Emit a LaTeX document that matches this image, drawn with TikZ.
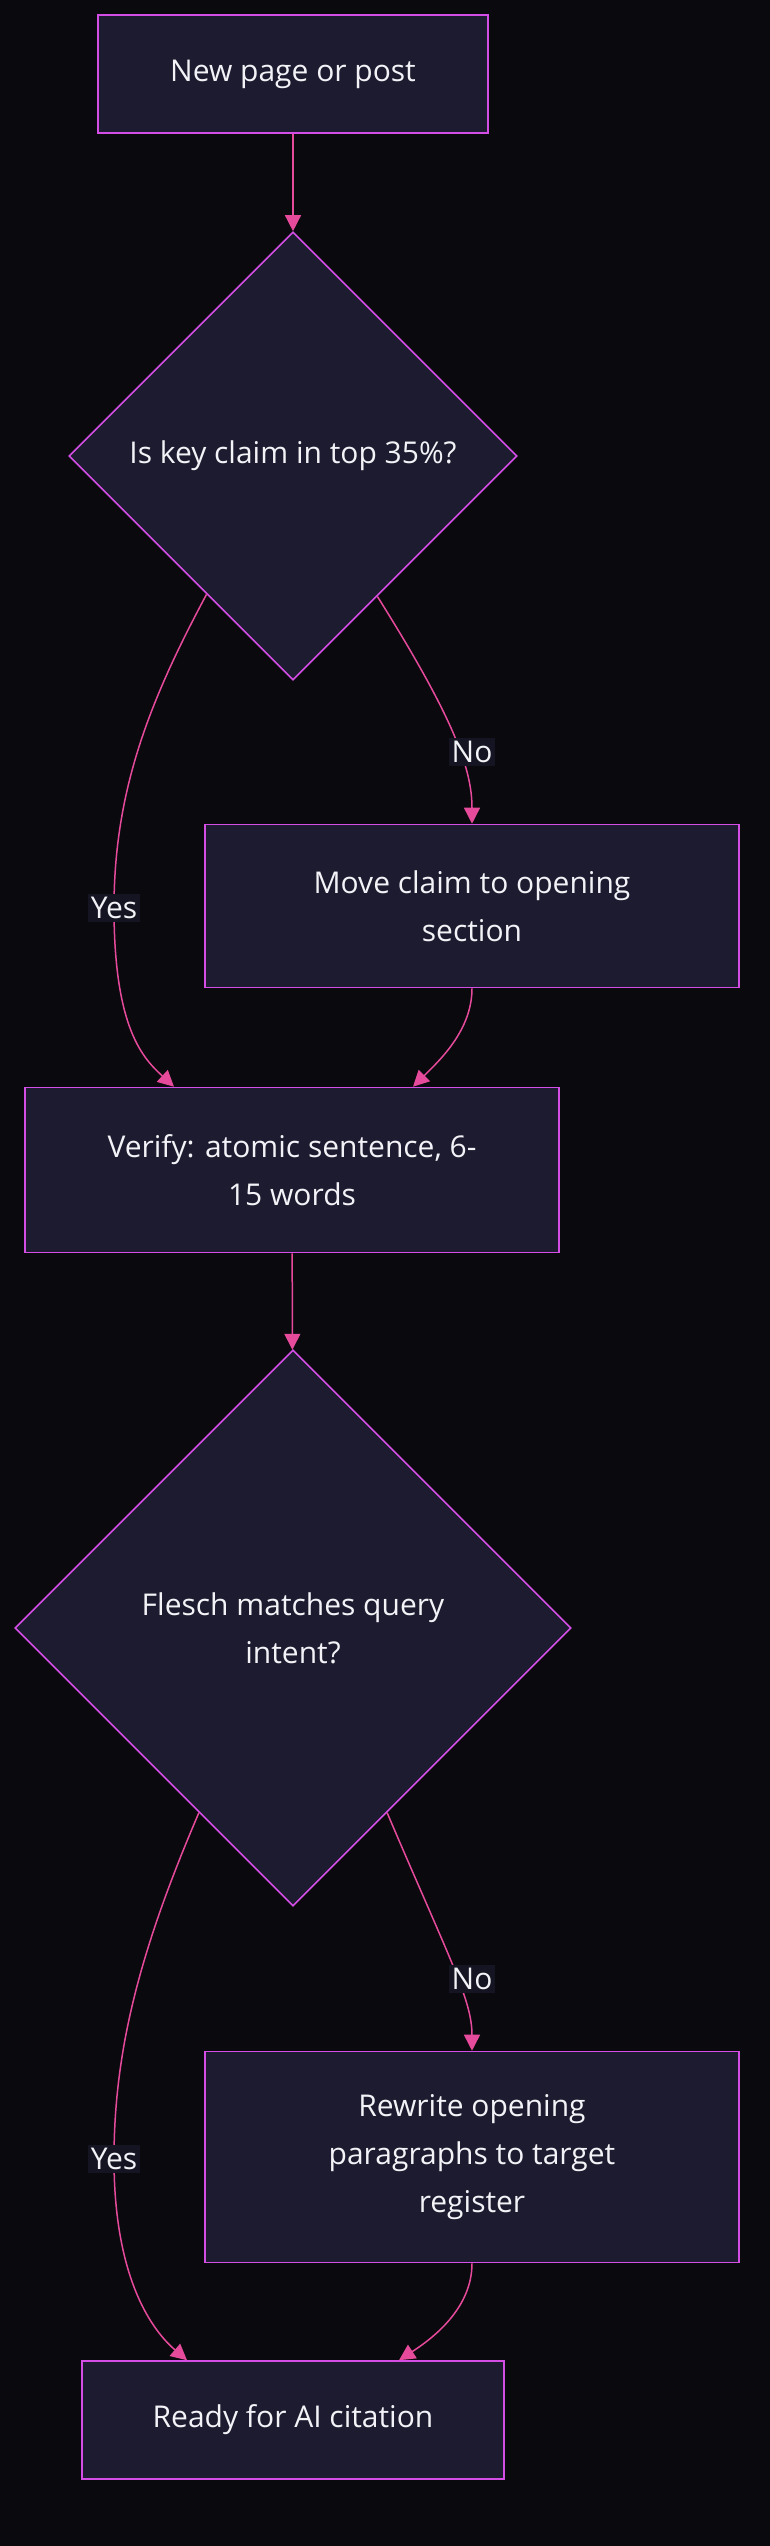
\documentclass[tikz,border=0pt]{standalone}
\usepackage{fontspec}
\setmainfont{Open Sans}
\usetikzlibrary{shapes.geometric,arrows.meta}
\definecolor{bgdark}{HTML}{0A090E}
\definecolor{boxfill}{HTML}{1C1B2F}
\definecolor{boxline}{HTML}{D44EE6}
\definecolor{edgepink}{HTML}{E64A9A}
\definecolor{lblfill}{HTML}{151423}
\definecolor{txt}{HTML}{F2F2F7}
\begin{document}
\begin{tikzpicture}[x=1pt,y=1pt,
  every node/.style={font=\fontsize{30}{48}\selectfont,text=txt},
  proc/.style={draw=boxline,fill=boxfill,line width=1.6pt,align=center,inner sep=0pt},
  decide/.style={diamond,aspect=1,draw=boxline,fill=boxfill,line width=1.6pt,align=center,inner sep=0pt},
  flow/.style={draw=edgepink,line width=1.5pt,-{Triangle[length=16pt,width=16pt]}},
  lbl/.style={fill=lblfill,inner sep=3pt}]
  \fill[bgdark] (0,0) rectangle (770,-2546);
  \node[proc,minimum width=390pt,minimum height=118pt] (start) at (293,-74) {New page or post};
  \node[decide,minimum width=448pt,minimum height=448pt] (d1) at (293,-456) {Is key claim in top 35\%?};
  \node[proc,minimum width=534pt,minimum height=163pt] (move) at (472,-906) {Move claim to opening\\section};
  \node[proc,minimum width=534pt,minimum height=165pt] (verify) at (292,-1170) {Verify: atomic sentence, 6-\\15 words};
  \node[decide,minimum width=556pt,minimum height=556pt] (d2) at (293,-1628) {Flesch matches query\\intent?};
  \node[proc,minimum width=534pt,minimum height=211pt] (rewrite) at (472,-2157) {Rewrite opening\\paragraphs to target\\register};
  \node[proc,minimum width=422pt,minimum height=118pt] (ready) at (293,-2420) {Ready for AI citation};
  \coordinate (no1) at (472,-752);
  \coordinate (yes1) at (114,-908);
  \coordinate (no2) at (472,-1979);
  \coordinate (yes2) at (114,-2159);
  \draw[flow] (start) -- (d1);
  \draw[flow] (d1.238) .. controls (150,-700) and (114,-790) .. (yes1)
    .. controls (114,-1030) and (144,-1059) .. ([xshift=-118pt]verify.north);
  \draw[flow] (d1.-59) .. controls (455,-720) and (472,-770) .. (move.north);
  \draw[flow] (move.south) .. controls (472,-1030) and (440,-1060) .. ([xshift=121pt]verify.north);
  \draw[flow] (verify) -- (d2);
  \draw[flow] (d2.243) .. controls (140,-1950) and (114,-2050) .. (yes2)
    .. controls (114,-2290) and (160,-2337) .. ([xshift=-106pt]ready.north);
  \draw[flow] (d2.-63) .. controls (450,-1960) and (472,-2000) .. (rewrite.north);
  \draw[flow] (rewrite.south) .. controls (472,-2310) and (430,-2340) .. ([xshift=106pt]ready.north);
  \node[lbl] at (no1) {No};
  \node[lbl] at (yes1) {Yes};
  \node[lbl] at (no2) {No};
  \node[lbl] at (yes2) {Yes};
\end{tikzpicture}
\end{document}
